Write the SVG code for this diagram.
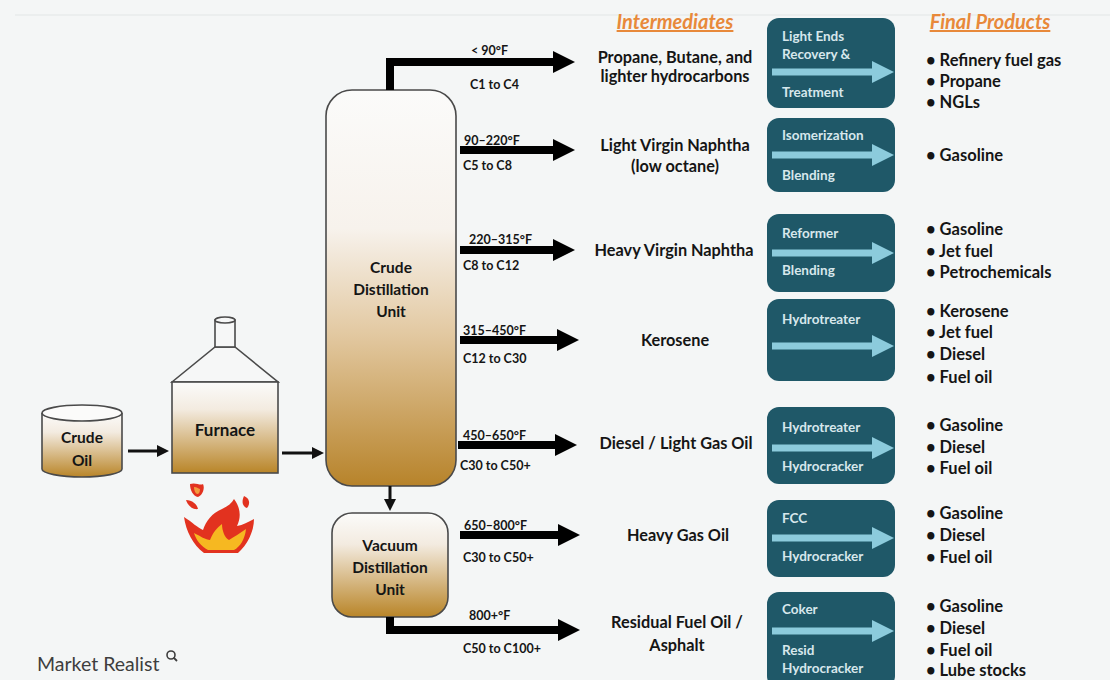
<svg xmlns="http://www.w3.org/2000/svg" width="1110" height="680" viewBox="0 0 1110 680">
  <defs>
    <linearGradient id="gCdu" x1="0" y1="0" x2="0" y2="1">
      <stop offset="0" stop-color="#fbfbfa"/>
      <stop offset="0.35" stop-color="#f7f2ec"/>
      <stop offset="0.62" stop-color="#e2c8a0"/>
      <stop offset="1" stop-color="#b7832a"/>
    </linearGradient>
    <linearGradient id="gUnit" x1="0" y1="0" x2="0" y2="1">
      <stop offset="0" stop-color="#fbfbfa"/>
      <stop offset="0.3" stop-color="#f3ebe0"/>
      <stop offset="1" stop-color="#b98528"/>
    </linearGradient>
    <marker id="headBig" viewBox="0 0 22 22" markerWidth="22" markerHeight="22" refX="0" refY="11" orient="auto" markerUnits="userSpaceOnUse">
      <path d="M0,0 L22,11 L0,22 z" fill="#000"/>
    </marker>
    <marker id="headSmall" viewBox="0 0 12 12" markerWidth="12" markerHeight="12" refX="0" refY="6" orient="auto" markerUnits="userSpaceOnUse">
      <path d="M0,0 L12,6 L0,12 z" fill="#111"/>
    </marker>
    <marker id="headLight" viewBox="0 0 22 22" markerWidth="22" markerHeight="22" refX="0" refY="11" orient="auto" markerUnits="userSpaceOnUse">
      <path d="M0,0 L22,11 L0,22 z" fill="#8ccbdc"/>
    </marker>
  </defs>
  <style>
    .bg { fill: #f4f6f6; }
    .unit { stroke: #4a4a4a; stroke-width: 1.6; }
    .lbl { font-family: Lato, "Liberation Sans", sans-serif; font-weight: bold; fill: #151515; }
    .unitText { font-size: 15.5px; text-anchor: middle; }
    .small { font-size: 12.5px; }
    .mid { font-size: 16.3px; text-anchor: middle; }
    .prod { font-size: 16.5px; }
    .head { font-family: Lato, "Liberation Sans", sans-serif; font-weight: bold; font-style: italic; font-size: 20px; fill: #e8893a; text-anchor: middle; text-decoration: underline; }
    .box { fill: #1f5868; }
    .boxText { font-family: Lato, "Liberation Sans", sans-serif; font-weight: bold; font-size: 13.5px; fill: #d7e7ec; }
    .pipe { fill: none; stroke: #000; stroke-width: 8; stroke-linejoin: miter; marker-end: url(#headBig); }
    .thin { fill: none; stroke: #111; stroke-width: 3; marker-end: url(#headSmall); }
    .lightArrow { fill: none; stroke: #8ccbdc; stroke-width: 7; marker-end: url(#headLight); }
  </style>

  <rect class="bg" x="0" y="0" width="1110" height="680"/>
  <line x1="15" y1="15" x2="1110" y2="15" stroke="#e2e5e5" stroke-width="1.2"/>

  <!-- column headings -->
  <text class="head" x="675" y="29">Intermediates</text>
  <text class="head" x="990" y="29">Final Products</text>

  <!-- crude oil tank -->
  <g id="crude-oil">
    <path class="unit" d="M42,413 V469 A40,8 0 0 0 122,469 V413" fill="url(#gUnit)"/>
    <ellipse class="unit" cx="82" cy="413" rx="40" ry="8" fill="#fbfbfa"/>
    <text class="lbl unitText" x="82" y="443">Crude</text>
    <text class="lbl unitText" x="82" y="466">Oil</text>
  </g>

  <!-- furnace with chimney -->
  <g id="furnace">
    <path class="unit" d="M172,382 L215,347 L235,347 L278,382 z" fill="#f6f7f7"/>
    <rect class="unit" x="215" y="320" width="20" height="27" fill="#f6f7f7"/>
    <ellipse class="unit" cx="225" cy="320" rx="10" ry="3" fill="#f6f7f7"/>
    <rect class="unit" x="172" y="382" width="106" height="91" fill="url(#gUnit)"/>
    <text class="lbl unitText" x="225" y="436" style="font-size:17px">Furnace</text>
  </g>

  <!-- burner flame -->
  <g id="flame">
    <path d="M184,517 C192,522 198,528 203,530 C206,521 212,513 222,509 C228,506 232,503 234,499 C241,508 241,518 237,526 C243,525 248,522 254,519 C254,532 247,545 238,553 L204,553 C193,545 186,531 184,517 z" fill="#e2321f"/>
    <path d="M194,533 C200,536 206,540 210,540 C213,532 217,528 222,524 C222,531 225,538 229,540 C234,537 240,533 246,529 C245,539 240,547 234,550 L208,550 C201,546 196,540 194,533 z" fill="#f6b821"/>
    <path d="M190,484 C196,482 200,486 203,484 C205,488 203,495 198,497 C193,496 190,490 190,484 z" fill="#e2321f"/>
    <path d="M194,487 C197,487 199,489 200,489 C200,492 199,494 197,494 C195,493 194,490 194,487 z" fill="#f39a3c"/>
    <path d="M186,500 C192,500 197,504 198,509 C193,510 188,506 186,500 z" fill="#e2321f"/>
    <path d="M244,496 C249,498 251,503 247,508 C243,507 241,502 244,496 z" fill="#e2321f"/>
  </g>

  <!-- crude distillation column -->
  <g id="crude-distillation-unit">
    <rect class="unit" x="326" y="90" width="130" height="396" rx="26" ry="26" fill="url(#gCdu)"/>
    <text class="lbl unitText" x="391" y="273">Crude</text>
    <text class="lbl unitText" x="391" y="295">Distillation</text>
    <text class="lbl unitText" x="391" y="317">Unit</text>
  </g>

  <!-- vacuum distillation column -->
  <g id="vacuum-distillation-unit">
    <rect class="unit" x="332" y="513" width="116" height="104" rx="20" ry="20" fill="url(#gUnit)"/>
    <text class="lbl unitText" x="390" y="551">Vacuum</text>
    <text class="lbl unitText" x="390" y="573">Distillation</text>
    <text class="lbl unitText" x="390" y="595">Unit</text>
  </g>

  <!-- feed and product lines -->
  <g id="connectors">
    <path class="thin" d="M128,451 H157"/>
    <path class="thin" d="M282,453 H312"/>
    <path class="thin" d="M390,486 V499"/>
    <path class="pipe" d="M390,90 V62 H553"/>
    <path class="pipe" d="M460,150 H553"/>
    <path class="pipe" d="M460,250 H553"/>
    <path class="pipe" d="M460,340 H557"/>
    <path class="pipe" d="M458,445 H555"/>
    <path class="pipe" d="M460,535 H558"/>
    <path class="pipe" d="M390,617 V630 H558"/>
  </g>

  <!-- cut temperature and carbon range labels -->
  <g id="cut-labels" class="lbl small">
    <text x="471" y="55">&lt; 90°F</text>
    <text x="470" y="89">C1 to C4</text>
    <text x="464" y="145">90–220°F</text>
    <text x="463" y="170">C5 to C8</text>
    <text x="469" y="244">220–315°F</text>
    <text x="463" y="270">C8 to C12</text>
    <text x="463" y="335">315–450°F</text>
    <text x="463" y="363">C12 to C30</text>
    <text x="463" y="440">450–650°F</text>
    <text x="460" y="470">C30 to C50+</text>
    <text x="464" y="530">650–800°F</text>
    <text x="463" y="562">C30 to C50+</text>
    <text x="469" y="620">800+°F</text>
    <text x="463" y="653">C50 to C100+</text>
  </g>

  <!-- intermediate streams -->
  <g id="intermediates" class="lbl mid">
    <text x="675" y="63">Propane, Butane, and</text>
    <text x="675" y="82">lighter hydrocarbons</text>
    <text x="675" y="151">Light Virgin Naphtha</text>
    <text x="675" y="172">(low octane)</text>
    <text x="674" y="256">Heavy Virgin Naphtha</text>
    <text x="675" y="346">Kerosene</text>
    <text x="676" y="449">Diesel / Light Gas Oil</text>
    <text x="678" y="541">Heavy Gas Oil</text>
    <text x="677" y="628">Residual Fuel Oil /</text>
    <text x="677" y="651">Asphalt</text>
  </g>

  <!-- downstream process units -->
  <g id="proc-light-ends">
    <rect class="box" x="767" y="18" width="128" height="90" rx="12"/>
    <text class="boxText" x="782" y="41">Light Ends</text>
    <text class="boxText" x="782" y="59">Recovery &amp;</text>
    <path class="lightArrow" d="M772,72 H872"/>
    <text class="boxText" x="782" y="97">Treatment</text>
  </g>
  <g id="proc-isomerization">
    <rect class="box" x="767" y="118" width="128" height="74" rx="12"/>
    <text class="boxText" x="782" y="140">Isomerization</text>
    <path class="lightArrow" d="M772,155 H872"/>
    <text class="boxText" x="782" y="180">Blending</text>
  </g>
  <g id="proc-reformer">
    <rect class="box" x="767" y="214" width="128" height="78" rx="12"/>
    <text class="boxText" x="782" y="238">Reformer</text>
    <path class="lightArrow" d="M772,253 H872"/>
    <text class="boxText" x="782" y="275">Blending</text>
  </g>
  <g id="proc-hydrotreater">
    <rect class="box" x="767" y="299" width="128" height="82" rx="12"/>
    <text class="boxText" x="782" y="324">Hydrotreater</text>
    <path class="lightArrow" d="M772,346 H872"/>
  </g>
  <g id="proc-hydrotreater-cracker">
    <rect class="box" x="767" y="407" width="128" height="77" rx="12"/>
    <text class="boxText" x="782" y="432">Hydrotreater</text>
    <path class="lightArrow" d="M772,448 H872"/>
    <text class="boxText" x="782" y="471">Hydrocracker</text>
  </g>
  <g id="proc-fcc">
    <rect class="box" x="767" y="500" width="128" height="77" rx="12"/>
    <text class="boxText" x="782" y="523">FCC</text>
    <path class="lightArrow" d="M772,538 H872"/>
    <text class="boxText" x="782" y="561">Hydrocracker</text>
  </g>
  <g id="proc-coker">
    <rect class="box" x="767" y="592" width="128" height="96" rx="12"/>
    <text class="boxText" x="782" y="614">Coker</text>
    <path class="lightArrow" d="M772,631 H872"/>
    <text class="boxText" x="782" y="655">Resid</text>
    <text class="boxText" x="782" y="673">Hydrocracker</text>
  </g>

  <!-- final products -->
  <g id="final-products" class="lbl prod">
    <text x="926" y="66">• Refinery fuel gas</text>
    <text x="926" y="87">• Propane</text>
    <text x="926" y="108">• NGLs</text>
    <text x="926" y="161">• Gasoline</text>
    <text x="926" y="235">• Gasoline</text>
    <text x="926" y="257">• Jet fuel</text>
    <text x="926" y="278">• Petrochemicals</text>
    <text x="926" y="317">• Kerosene</text>
    <text x="926" y="338">• Jet fuel</text>
    <text x="926" y="360">• Diesel</text>
    <text x="926" y="383">• Fuel oil</text>
    <text x="926" y="431">• Gasoline</text>
    <text x="926" y="453">• Diesel</text>
    <text x="926" y="474">• Fuel oil</text>
    <text x="926" y="519">• Gasoline</text>
    <text x="926" y="541">• Diesel</text>
    <text x="926" y="563">• Fuel oil</text>
    <text x="926" y="612">• Gasoline</text>
    <text x="926" y="634">• Diesel</text>
    <text x="926" y="656">• Fuel oil</text>
    <text x="926" y="676">• Lube stocks</text>
  </g>

  <!-- publisher mark -->
  <g id="brand">
    <text x="37" y="671" font-family="Lato, 'Liberation Sans', sans-serif" font-size="19.5" fill="#3e3e3e">Market Realist</text>
    <circle cx="171" cy="655" r="4" fill="none" stroke="#3e3e3e" stroke-width="1.6"/>
    <line x1="173.5" y1="657.5" x2="177" y2="661" stroke="#3e3e3e" stroke-width="1.8"/>
  </g>
</svg>
